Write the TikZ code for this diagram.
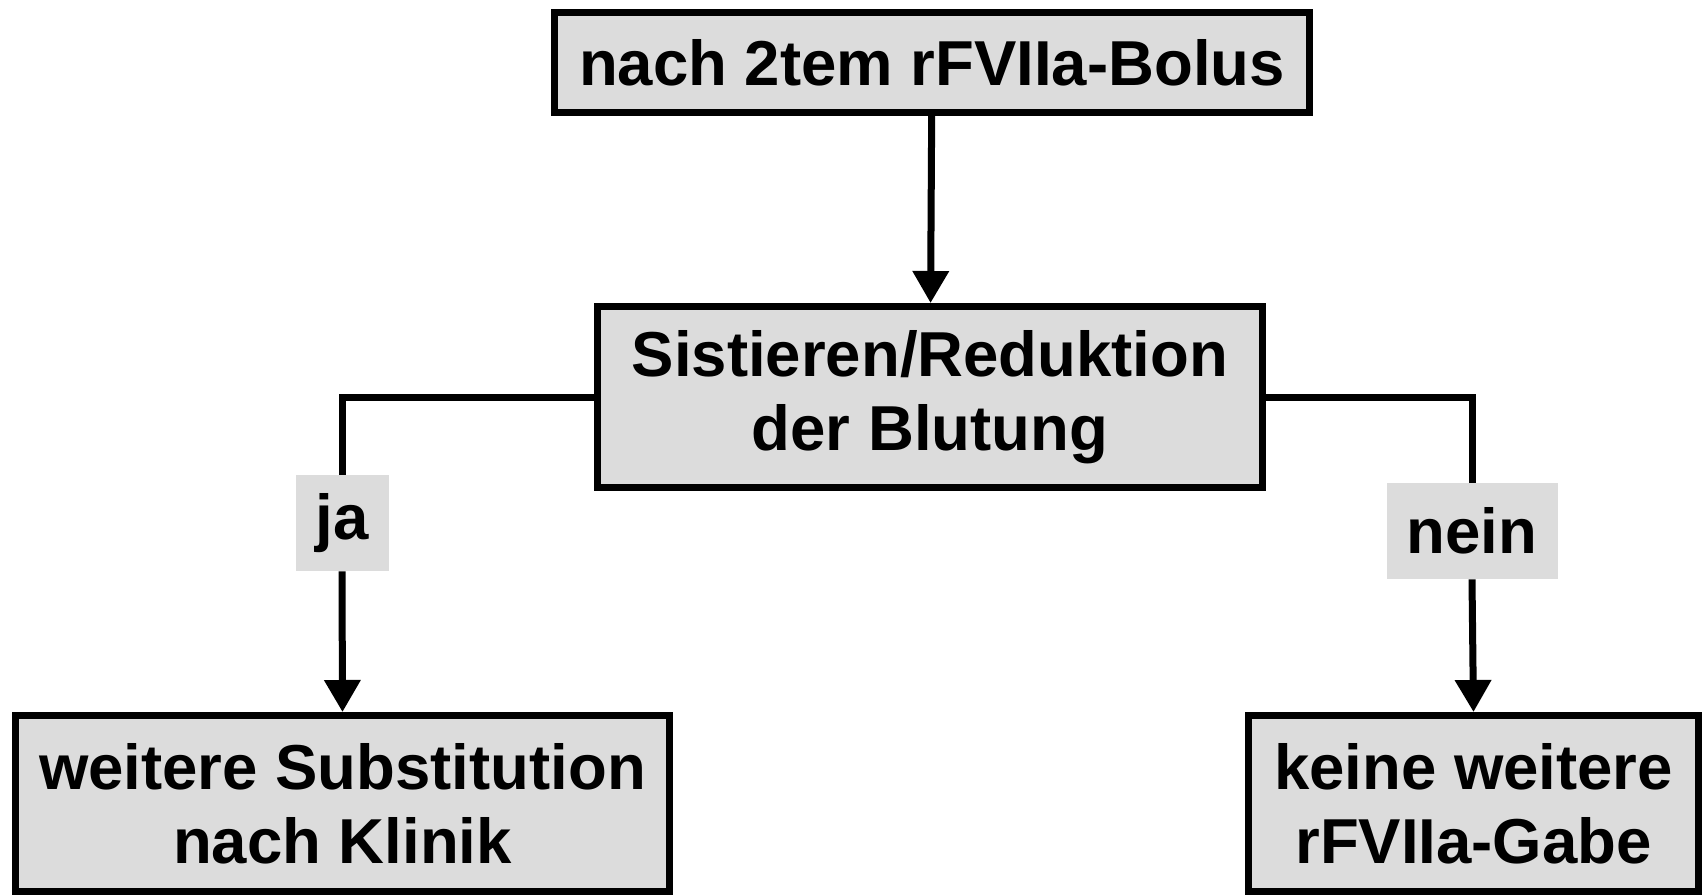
\documentclass[tikz,border=0pt]{standalone}
\usepackage{fontspec}
\setmainfont{Liberation Sans}
\usepackage{xcolor}
\definecolor{cBox}{HTML}{DCDCDC}
\definecolor{cLine}{HTML}{000000}
\usepackage{tikz}
\usetikzlibrary{positioning,arrows.meta}
\tikzset{
  node-box/.style={draw=cLine,line width=3.5pt,fill=cBox,inner sep=0pt,
    align=center,font=\fontsize{31.75}{37}\selectfont\bfseries},
  node-label/.style={fill=cBox,inner sep=0pt,
    font=\fontsize{31.75}{37}\selectfont\bfseries},
  arrow/.style={-{Triangle[length=16pt,width=17.5pt]},line width=3.5pt,draw=cLine},
  branch/.style={line width=3.5pt,draw=cLine},
}

\begin{document}
\begin{tikzpicture}[x=0.5pt,y=-0.5pt]
  \useasboundingbox (0,0) rectangle (1704,895);
  \node[node-box,minimum width=377.5pt,minimum height=50pt]   (bolus) at (932,62.5)
    {nach 2tem rFVIIa-Bolus};
  \node[node-box,minimum width=332.5pt,minimum height=90.5pt] (stop)  at (930,397)
    {Sistieren/Reduktion\\der Blutung};
  \node[node-box,minimum width=327pt,minimum height=88pt]     (subst) at (342.5,803.5)
    {weitere Substitution\\nach Klinik};
  \node[node-box,minimum width=225pt,minimum height=88pt]     (keine) at (1473.5,803.5)
    {keine weitere\\rFVIIa-Gabe};
  \node[node-label,minimum width=46.5pt,minimum height=48pt]  (ja)    at (342,523) {ja};
  \node[node-label,minimum width=85.5pt,minimum height=48pt]  (nein)  at (1472,531) {nein};
  \draw[arrow]  (bolus) -- (stop);
  \draw[branch] (stop.west) -| (ja.north);
  \draw[arrow]  (ja.south) -- (subst.north);
  \draw[branch] (stop.east) -| (nein.north);
  \draw[arrow]  (nein.south) -- (keine.north);
\end{tikzpicture}
\end{document}
